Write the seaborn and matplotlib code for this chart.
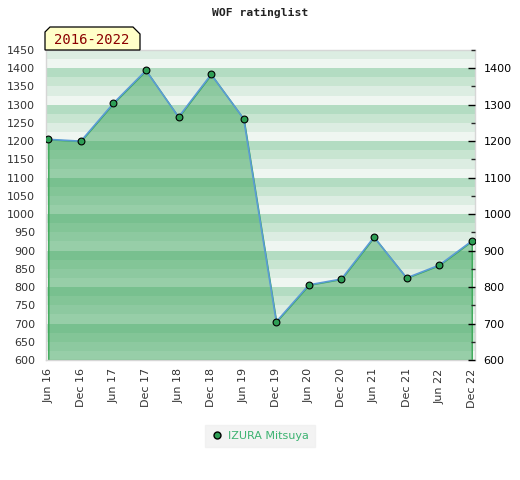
import numpy as np
import pandas as pd
import matplotlib
matplotlib.use("Agg")
import matplotlib.pyplot as plt
from matplotlib.lines import Line2D
from matplotlib.patches import Polygon
from matplotlib.ticker import MultipleLocator
import seaborn as sns

# Daten
periods = ["Jun 16", "Dec 16", "Jun 17", "Dec 17", "Jun 18", "Dec 18", "Jun 19",
           "Dec 19", "Jun 20", "Dec 20", "Jun 21", "Dec 21", "Jun 22", "Dec 22"]
rating = [1205, 1200, 1304, 1394, 1266, 1383, 1261,
          705, 806, 822, 937, 825, 860, 926]
player = "IZURA Mitsuya"
span_label = "2016-2022"

df = pd.DataFrame({"pos": range(len(periods)), "rating": rating})

sns.set_style("white")
plt.rcParams["font.family"] = ["DejaVu Sans"]

fig = plt.figure(figsize=(5.2, 4.8), dpi=100)
ax = fig.add_axes([46 / 520, 1 - 360 / 480, (475 - 46) / 520, (360 - 50) / 480])

# gestreifter Hintergrund, 4 Streifen je 100 Punkte
stripe_cols = ["#eff6f1", "#dcede2", "#c8e5d1", "#b3dcc2"]
for lo in range(600, 1450, 25):
    ax.axhspan(lo, lo + 25, color=stripe_cols[(lo % 100) // 25], lw=0, zorder=0)

# Fläche + Linie
ax.fill_between(df["pos"], df["rating"], 600, facecolor=(0.22, 0.64, 0.35, 0.48),
                edgecolor="#3aa856", lw=1, zorder=2)
sns.lineplot(data=df, x="pos", y="rating", ax=ax, color="#5b9bd5", lw=1.2,
             zorder=3, legend=False)
ax.scatter(df["pos"], df["rating"], s=24, color="#2e9e55", edgecolor="black",
           lw=0.8, zorder=4)

ax.set_xlim(-0.07, 13.1)
ax.set_ylim(600, 1450)
ax.set_xticks(range(len(periods)))
ax.set_xticklabels(periods, rotation=90, fontsize=8, color="#333333")
ax.set_yticks(range(600, 1451, 50))
ax.tick_params(axis="y", labelsize=8, colors="#333333", length=0, pad=8)
ax.tick_params(axis="x", length=0, pad=6)
ax.set_xlabel("")
ax.set_ylabel("")
for s in ax.spines.values():
    s.set_color("#d6d6d6")
    s.set_linewidth(1)

# rechte Achse
ax2 = ax.twinx()
ax2.set_ylim(600, 1450)
ax2.set_yticks(range(600, 1401, 100))
ax2.yaxis.set_minor_locator(MultipleLocator(50))
ax2.tick_params(axis="y", which="major", direction="in", length=5, width=1,
                labelsize=8, colors="black", pad=6)
ax2.tick_params(axis="y", which="minor", direction="in", length=3, width=1)
for s in ax2.spines.values():
    s.set_visible(False)

# Titel
fig.text(0.5, 1 - 13 / 480, "WOF ratinglist", ha="center", va="center",
         fontsize=8.2, fontweight="bold", family="DejaVu Sans Mono", color="#222222")

# Jahres-Etikett
W, H = 520, 480
pts = [(45, 50), (45, 32), (50, 27), (133, 27), (140, 34), (140, 50)]
badge = Polygon([(x / W, 1 - y / H) for x, y in pts], closed=True,
                transform=fig.transFigure, facecolor="#ffffc8", edgecolor="black",
                lw=0.9, zorder=1)
fig.patches.append(badge)
fig.text(92 / W, 1 - 40 / H, span_label, ha="center", va="center", fontsize=10,
         family="DejaVu Sans Mono", color="#8b0000", zorder=6)

# Legende
handle = Line2D([], [], ls="none", marker="o", markersize=5,
                markerfacecolor="#2e9e55", markeredgecolor="black")
leg = fig.legend([handle], [player], loc="center", bbox_to_anchor=(0.5, 1 - 436 / H),
                 frameon=True, fontsize=8, handletextpad=0.4, handlelength=1.2,
                 borderpad=0.5, fancybox=False)
leg.get_frame().set_facecolor("#f0f0f0")
leg.get_frame().set_edgecolor("#f0f0f0")
for t in leg.get_texts():
    t.set_color("#3cb371")

fig.savefig("out.png", dpi=100)
